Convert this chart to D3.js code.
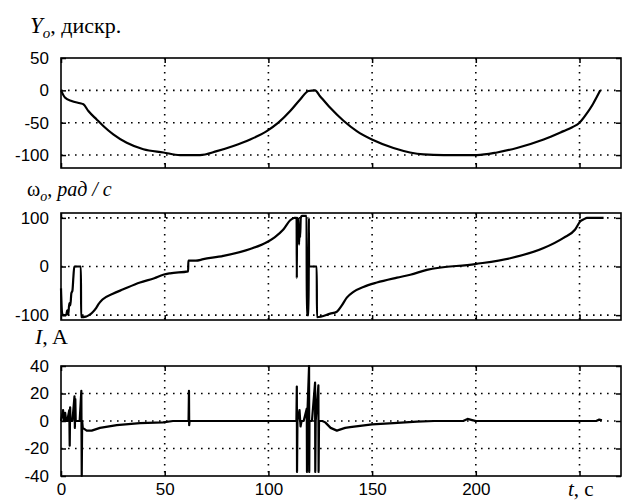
<!DOCTYPE html>
<html><head><meta charset="utf-8">
<script src="https://cdn.jsdelivr.net/npm/d3@7"></script>
<style>body{margin:0;background:#fff}</style>
</head><body>
<svg id="c" width="630" height="502"></svg>
<script>
// ---- data ----
const xTicks = [0, 50, 100, 150, 200, 250];
const xTickLabels = ["0", "50", "100", "150", "200", ""];
const yTicksY = [50, 0, -50, -100];
const yTicksW = [100, 0, -100];
const yTicksI = [40, 20, 0, -20, -40];

// Y_o (discrete units) vs t
const tY = [0,1.9,5.1,9.2,10.8,13.2,17.2,20.4,25.2,31.7,39.7,49.4,57.4,67,75.1,83.1,91.2,99.2,104.8,110.5,115.3,119.3,122.5,124.9,129.8,136.2,142.6,149.9,160.3,174.8,184.5,200.5,210.2,219.8,232.7,242.3,246.5,250,253,256.5,260];
const Y  = [0,-11,-16.5,-20,-21.5,-32,-45,-55,-68,-81,-91,-96,-100,-100,-94,-86,-76,-63,-50,-32,-14,-1,0,-9,-27,-47,-63,-76,-89,-99,-100,-100,-96,-89,-76,-63,-57,-50,-38,-21,0];

// omega_o (rad/s) vs t
const tW = [0,0.5,1,2.5,3,3.5,4,4.5,5,5.5,6,6.4,9.6,9.7,12,13.5,15,17,18,20,25,30,38.1,45,49.3,52.6,61.3,61.4,65,68.6,78.3,91.2,99.2,103,107.2,110.5,112.5,113.6,113.7,113.8,114.3,114.8,115,115.3,115.6,116.1,118.4,118.5,119.4,119.5,119.6,123.3,123.4,129.8,133,135.4,137.8,141,145.8,152.3,162,168.4,176.4,199.7,216.6,232.7,242.3,247.9,250.4,252,253.6,261.6];
const W  = [-45,-95,-100,-100,-90,-100,-75,-80,-55,-50,-20,0,0,-104,-103,-100,-95,-85,-78,-68,-56,-47,-33,-24,-17,-14,-10,12,12,15,22,36,50,60,76,95,100,100,-24,100,98,45,85,60,100,104,104,-100,-100,100,0,0,-104,-97,-93,-80,-64,-52,-42,-33,-23,-17,-7,5,17,38,59,76,93,97,100,100];

// I (A) vs t
const tI = [0,0.5,1,1.5,2,2.5,3,4,4.2,4.4,4.6,5.5,6.5,6.7,6.9,7.1,9,9.8,10,10.2,10.5,12.4,14.8,18.8,26.9,38.1,49.2,54,61.5,61.7,61.8,62,109,113.5,113.7,113.8,114,115,115.5,116,117,118.5,118.6,118.8,119.6,119.7,119.8,121,122.5,122.6,122.8,124.1,124.2,124.4,126,127.4,130,133,137,139.4,150,160.3,171.6,180,193.9,196,198.7,200,258,259.5,260.8];
const I  = [0,4,8,0,6,0,0,8,-18,10,0,0,18,-5,16,0,0,22,-40,0,-5,-7,-7,-5,-3,-1.5,-1,0,0,22,-3,0,0,0,25,-37,0,8,-4,0,0,9,-37,5,40,-37,0,0,28,-37,0,26,-37,0,0,-1,-5,-7,-5,-4.5,-2.4,-1.6,-0.4,0,0,1.5,0.5,0,0,1,0.5];

// ---- layout ----
const svg = d3.select("#c");
const L = 61, R = 621;
const x = d3.scaleLinear().domain([0, 270]).range([L, R]);

const panels = [
  {top: 58,  bot: 168, dom: [-120, 50], ticks: yTicksY, t: tY, v: Y, curve: d3.curveMonotoneX},
  {top: 213, bot: 320, dom: [-110, 110], ticks: yTicksW, t: tW, v: W, curve: d3.curveMonotoneX},
  {top: 366, bot: 476, dom: [-40, 40],  ticks: yTicksI, t: tI, v: I, curve: d3.curveLinear}
];

panels.forEach((p, i) => {
  const y = d3.scaleLinear().domain(p.dom).range([p.bot, p.top]);
  const g = svg.append("g");
  g.append("rect").attr("x", L).attr("y", p.top).attr("width", R - L).attr("height", p.bot - p.top)
    .attr("fill", "#fff");
  // grid
  g.selectAll(".vg").data(xTicks.filter(d => d > 0)).join("line")
    .attr("x1", d => x(d)).attr("x2", d => x(d)).attr("y1", p.top).attr("y2", p.bot)
    .attr("stroke", "#000").attr("stroke-width", 1.6).attr("stroke-dasharray", "1.6,5.4");
  g.selectAll(".hg").data(p.ticks.filter(d => d > p.dom[0] && d < p.dom[1])).join("line")
    .attr("x1", L).attr("x2", R).attr("y1", d => y(d)).attr("y2", d => y(d))
    .attr("stroke", "#000").attr("stroke-width", 1.6).attr("stroke-dasharray", "1.6,5.4");
  // inner ticks via axes
  g.append("g").attr("transform", `translate(0,${p.bot})`)
    .call(d3.axisBottom(x).tickValues(xTicks).tickSize(-5).tickFormat("").tickSizeOuter(0))
    .call(s => s.select(".domain").remove());
  g.append("g").attr("transform", `translate(0,${p.top})`)
    .call(d3.axisTop(x).tickValues(xTicks).tickSize(-5).tickFormat("").tickSizeOuter(0))
    .call(s => s.select(".domain").remove());
  g.append("g").attr("transform", `translate(${L},0)`)
    .call(d3.axisLeft(y).tickValues(p.ticks).tickSize(-5).tickPadding(12).tickSizeOuter(0)
      .tickFormat(d => String(d)))
    .call(s => s.select(".domain").remove())
    .call(s => s.selectAll("text").attr("font-family", "Liberation Sans, Arial, sans-serif")
      .attr("font-size", 17).attr("fill", "#000"));
  g.append("g").attr("transform", `translate(${R},0)`)
    .call(d3.axisRight(y).tickValues(p.ticks).tickSize(-5).tickFormat("").tickSizeOuter(0))
    .call(s => s.select(".domain").remove());
  g.selectAll(".tick line").attr("stroke", "#000").attr("stroke-width", 1.5);
  // data line
  const line = d3.line().x(d => x(d[0])).y(d => y(d[1])).curve(p.curve);
  const pts = p.t.map((t, k) => [t, p.v[k]]);
  g.append("path").datum(pts).attr("d", line).attr("fill", "none")
    .attr("stroke", "#000").attr("stroke-width", 2.2).attr("stroke-linejoin", "round");
  // border
  g.append("rect").attr("x", L).attr("y", p.top).attr("width", R - L).attr("height", p.bot - p.top)
    .attr("fill", "none").attr("stroke", "#000").attr("stroke-width", 1.6);

  if (i === 2) {
    g.append("g").attr("transform", `translate(0,${p.bot})`)
      .call(d3.axisBottom(x).tickValues(xTicks).tickSize(0).tickPadding(7)
        .tickFormat((d, k) => xTickLabels[k]))
      .call(s => s.select(".domain").remove())
      .call(s => s.selectAll("text").attr("font-family", "Liberation Sans, Arial, sans-serif")
        .attr("font-size", 17).attr("fill", "#000"));
  }
});

// titles
const serif = "Liberation Serif, Times New Roman, serif";
const t1 = svg.append("text").attr("x", 30).attr("y", 33).attr("font-family", serif).attr("font-size", 22);
t1.append("tspan").attr("font-style", "italic").attr("font-size", 23).text("Y");
t1.append("tspan").attr("font-style", "italic").attr("font-size", 15).attr("dy", 5).text("o");
t1.append("tspan").attr("dy", -5).text(", дискр.");

const t2 = svg.append("text").attr("x", 27).attr("y", 196).attr("font-family", serif).attr("font-size", 20);
t2.append("tspan").text("ω");
t2.append("tspan").attr("font-style", "italic").attr("font-size", 14).attr("dy", 5).text("o");
t2.append("tspan").attr("dy", -5).text(", ");
t2.append("tspan").attr("font-style", "italic").text("рад / с");

const t3 = svg.append("text").attr("x", 35).attr("y", 344).attr("font-family", serif).attr("font-size", 22);
t3.append("tspan").attr("font-style", "italic").text("I");
t3.append("tspan").text(", A");

const t4 = svg.append("text").attr("x", 568).attr("y", 496).attr("font-family", serif).attr("font-size", 21);
t4.append("tspan").attr("font-style", "italic").text("t");
t4.append("tspan").text(", с");
</script>
</body></html>
